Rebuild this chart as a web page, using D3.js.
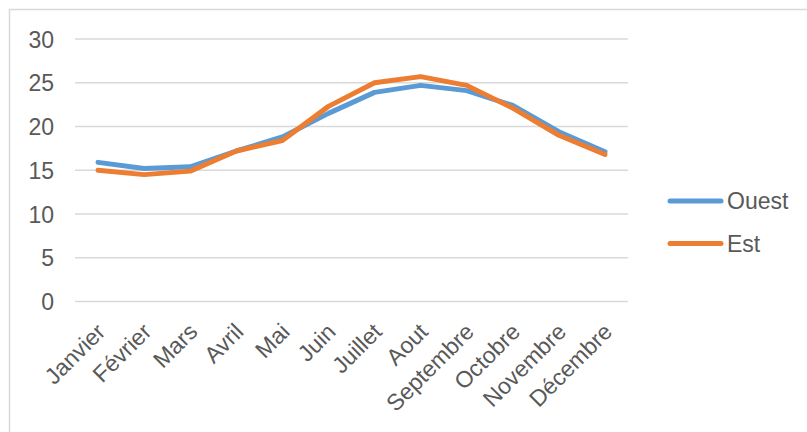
<!DOCTYPE html>
<html>
<head>
<meta charset="utf-8">
<script src="https://cdn.jsdelivr.net/npm/d3@7"></script>
<style>
  html, body { margin: 0; padding: 0; background: #fff; }
  svg { display: block; }
  text { font-family: "Liberation Sans", Arial, sans-serif; fill: #595959; }
</style>
</head>
<body>
<svg id="chart" width="807" height="432"></svg>
<script>
// Monthly values for the two series
const months = ["Janvier", "Février", "Mars", "Avril", "Mai", "Juin", "Juillet", "Aout", "Septembre", "Octobre", "Novembre", "Décembre"];
const ouest = [15.9, 15.2, 15.4, 17.2, 18.8, 21.5, 23.9, 24.7, 24.1, 22.4, 19.4, 17.1];
const est   = [15.0, 14.5, 14.9, 17.2, 18.4, 22.3, 25.0, 25.7, 24.7, 22.1, 19.0, 16.8];
const yTicks = [0, 5, 10, 15, 20, 25, 30];
const seriesNames = ["Ouest", "Est"];
const seriesColors = ["#5B9BD5", "#ED7D31"];

const svg = d3.select("#chart");

// Outer frame (right/bottom edges fall outside the canvas)
svg.append("path")
  .attr("d", "M9.5,440 L9.5,9.5 L820,9.5")
  .attr("fill", "none")
  .attr("stroke", "#D9D9D9")
  .attr("stroke-width", 1.5);

const x = d3.scaleBand().domain(months).range([75, 628]);
const y = d3.scaleLinear().domain([0, 30]).range([301.5, 39]);

// Horizontal gridlines
svg.append("g")
  .selectAll("line")
  .data(yTicks)
  .join("line")
  .attr("x1", 75).attr("x2", 628)
  .attr("y1", d => y(d)).attr("y2", d => y(d))
  .attr("stroke", "#D9D9D9")
  .attr("stroke-width", 1.5);

// Y axis labels
const yAxis = d3.axisLeft(y).tickValues(yTicks).tickSize(0).tickPadding(0);
const gy = svg.append("g").attr("transform", "translate(54,0)").call(yAxis);
gy.select(".domain").remove();
gy.selectAll("text")
  .attr("font-size", 23)
  .attr("font-family", "Liberation Sans, Arial, sans-serif")
  .attr("fill", "#595959")
  .attr("dy", "0.35em");

// X axis labels, rotated
const xAxis = d3.axisBottom(x).tickSize(0).tickPadding(0);
const gx = svg.append("g").attr("transform", "translate(0,301.5)").call(xAxis);
gx.select(".domain").remove();
gx.selectAll("text")
  .attr("font-size", 23)
  .attr("font-family", "Liberation Sans, Arial, sans-serif")
  .attr("fill", "#595959")
  .attr("text-anchor", "end")
  .attr("dy", "0.35em")
  .attr("transform", "translate(3,26) rotate(-45)");

// Series lines
const line = d3.line()
  .x((d, i) => x(months[i]) + x.bandwidth() / 2)
  .y(d => y(d));

[ouest, est].forEach((vals, i) => {
  svg.append("path")
    .datum(vals)
    .attr("d", line)
    .attr("fill", "none")
    .attr("stroke", seriesColors[i])
    .attr("stroke-width", 5)
    .attr("stroke-linejoin", "round")
    .attr("stroke-linecap", "round");
});

// Legend
const legend = svg.append("g");
const legendY = [201, 243.5];
seriesNames.forEach((name, i) => {
  legend.append("line")
    .attr("x1", 670).attr("x2", 721)
    .attr("y1", legendY[i]).attr("y2", legendY[i])
    .attr("stroke", seriesColors[i])
    .attr("stroke-width", 5)
    .attr("stroke-linecap", "round");
  legend.append("text")
    .attr("x", 727)
    .attr("y", legendY[i])
    .attr("dy", "0.35em")
    .attr("font-size", 23)
    .text(name);
});
</script>
</body>
</html>
